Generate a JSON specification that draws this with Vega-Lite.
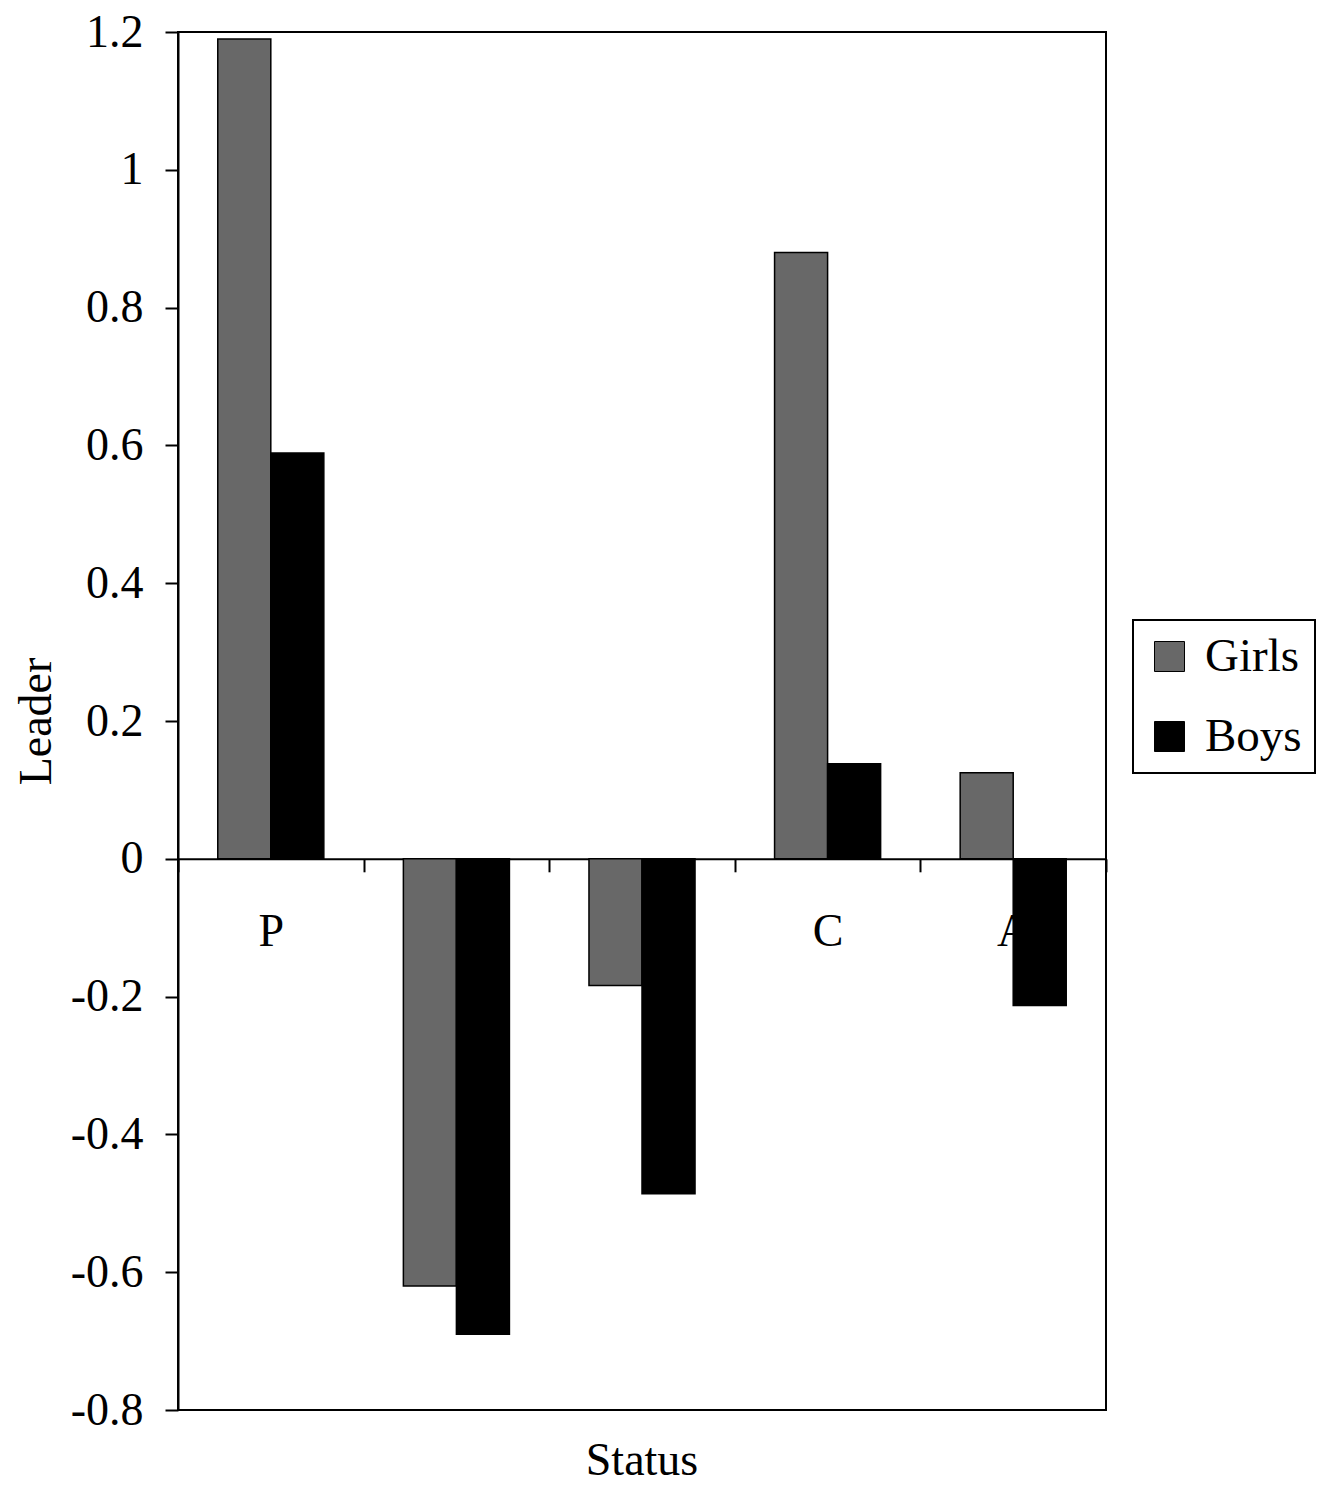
{
  "$schema": "https://vega.github.io/schema/vega-lite/v6.json",
  "width": 928,
  "height": 1378,
  "autosize": {"type": "none"},
  "padding": {"left": 178, "top": 32, "right": 219, "bottom": 79},
  "background": "white",
  "title": {"text": "Status", "orient": "bottom", "anchor": "middle", "font": "Liberation Serif", "fontSize": 46, "fontWeight": "normal", "color": "black", "offset": 6},
  "config": {
    "view": {"stroke": "black", "strokeWidth": 2},
    "font": "Liberation Serif"
  },
  "data": {
    "values": [
      {"status": "P", "sex": "Girls", "leader": 1.19},
      {"status": "P", "sex": "Boys", "leader": 0.589},
      {"status": "R", "sex": "Girls", "leader": -0.62},
      {"status": "R", "sex": "Boys", "leader": -0.69},
      {"status": "N", "sex": "Girls", "leader": -0.184},
      {"status": "N", "sex": "Boys", "leader": -0.486},
      {"status": "C", "sex": "Girls", "leader": 0.88},
      {"status": "C", "sex": "Boys", "leader": 0.138},
      {"status": "A", "sex": "Girls", "leader": 0.125},
      {"status": "A", "sex": "Boys", "leader": -0.213}
    ]
  },
  "mark": {"type": "bar", "stroke": "black", "strokeWidth": 1.5},
  "encoding": {
    "x": {
      "field": "status", "type": "nominal", "sort": ["P", "R", "N", "C", "A"],
      "scale": {"paddingInner": 0, "paddingOuter": 0},
      "axis": {
        "title": null, "orient": "bottom", "offset": -551.2, "labelAngle": 0,
        "labelFont": "Liberation Serif", "labelFontSize": 46, "labelColor": "black",
        "labelPadding": 38, "tickSize": 13, "tickBand": "extent", "tickColor": "black", "tickWidth": 2,
        "domainColor": "black", "domainWidth": 2, "grid": false, "zindex": 0
      }
    },
    "xOffset": {"field": "sex", "type": "nominal", "sort": ["Girls", "Boys"], "scale": {"paddingInner": 0, "paddingOuter": 0.75}},
    "y": {
      "field": "leader", "type": "quantitative",
      "scale": {"domain": [-0.8, 1.2], "nice": false, "zero": false},
      "axis": {
        "title": "Leader", "titleFont": "Liberation Serif", "titleFontSize": 46, "titleFontWeight": "normal", "titleColor": "black", "titlePadding": 10,
        "values": [-0.8, -0.6, -0.4, -0.2, 0, 0.2, 0.4, 0.6, 0.8, 1, 1.2],
        "labelExpr": "toString(round(datum.value*10)/10)",
        "labelFont": "Liberation Serif", "labelFontSize": 46, "labelColor": "black",
        "labelPadding": 22, "tickSize": 13, "tickColor": "black", "tickWidth": 2,
        "domainColor": "black", "domainWidth": 2, "grid": false
      }
    },
    "color": {
      "field": "sex", "type": "nominal", "sort": ["Girls", "Boys"],
      "scale": {"domain": ["Girls", "Boys"], "range": ["#686868", "#000000"]},
      "legend": {
        "title": null, "orient": "none", "legendX": 955, "legendY": 588,
        "labelFont": "Liberation Serif", "labelFontSize": 47, "labelColor": "black",
        "symbolType": "square", "symbolSize": 900, "symbolStrokeColor": "black", "symbolStrokeWidth": 1,
        "labelOffset": 12, "rowPadding": 32, "padding": 13,
        "strokeColor": "black", "fillColor": "white",
        "encode": {"legend": {"update": {"strokeWidth": {"value": 2}}}}
      }
    }
  }
}
